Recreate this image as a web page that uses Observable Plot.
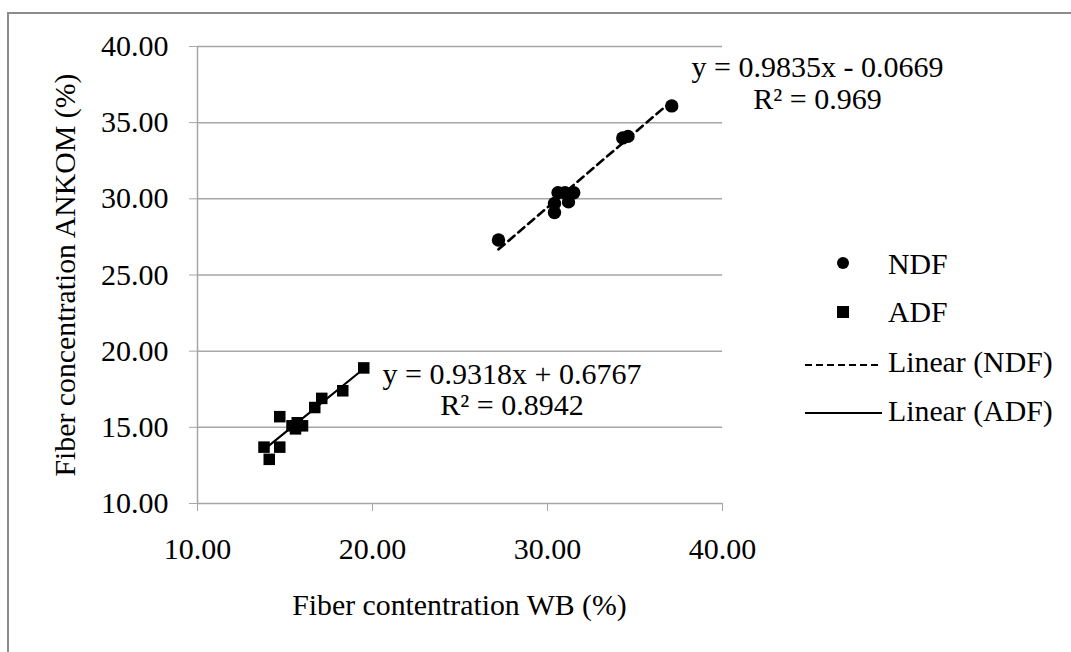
<!DOCTYPE html>
<html>
<head>
<meta charset="utf-8">
<script src="https://cdn.jsdelivr.net/npm/d3@7"></script>
<script src="https://cdn.jsdelivr.net/npm/@observablehq/plot@0.6"></script>
<style>
  html, body { margin: 0; padding: 0; background: #fff; overflow: hidden; }
  body { width: 1071px; height: 652px; position: relative; font-family: "Liberation Serif", "Times New Roman", serif; color: #000; }
  #frame { position: absolute; left: 7px; top: 12px; width: 1100px; height: 700px; border: 2px solid #8c8c8c; box-sizing: border-box; }
  #chart { position: absolute; left: 0; top: 0; }
  #chart svg text { font-family: "Liberation Serif", "Times New Roman", serif; }
  .lbl { position: absolute; white-space: nowrap; line-height: 1; font-size: 29.8px; }
  .leg { position: absolute; font-size: 29.8px; white-space: nowrap; line-height: 1; }
</style>
</head>
<body>
<div id="frame"></div>
<div id="chart"></div>
<div class="lbl" id="xlab" style="left:459.5px; top:605px; transform: translate(-50%,-50%);">Fiber contentration WB (%)</div>
<div class="lbl" id="ylab" style="left:65px; top:274.5px; transform: translate(-50%,-50%) rotate(-90deg);">Fiber concentration ANKOM (%)</div>
<div id="legend"></div>
<script>
// NDF series (WB %, ANKOM %)
const ndfX = [27.2, 30.4, 30.4, 30.6, 31.0, 31.5, 31.2, 34.3, 34.6, 37.1];
const ndfY = [27.3, 29.1, 29.7, 30.4, 30.4, 30.4, 29.8, 34.0, 34.1, 36.1];
// ADF series
const adfX = [13.8, 14.1, 14.7, 14.7, 15.4, 15.6, 15.7, 16.0, 16.7, 17.1, 18.3, 19.5];
const adfY = [13.7, 12.9, 13.7, 15.7, 15.1, 14.9, 15.3, 15.1, 16.3, 16.9, 17.4, 18.9];
// Trendline coefficients
const ndfSlope = 0.9835, ndfIntercept = -0.0669, ndfR2 = "0.969";
const adfSlope = 0.9318, adfIntercept = 0.6767, adfR2 = "0.8942";
const ndfEq = "y = 0.9835x - 0.0669";
const adfEq = "y = 0.9318x + 0.6767";
// Annotation anchor points (data units): centre x, y of equation line, y of R² line
const ndfEqPos = [45.43, 38.62, 36.5];
const adfEqPos = [27.97, 18.5, 16.45];
// Axis ticks
const xTicks = [10, 20, 30, 40];
const yTicks = [10, 15, 20, 25, 30, 35, 40];
const legendItems = ["NDF", "ADF", "Linear (NDF)", "Linear (ADF)"];

const ndf = ndfX.map((x, i) => ({x, y: ndfY[i]}));
const adf = adfX.map((x, i) => ({x, y: adfY[i]}));
const trend = (xs, m, b) => { const e = d3.extent(xs); return e.map(x => ({x, y: m * x + b})); };
const ndfLine = trend(ndfX, ndfSlope, ndfIntercept);
const adfLine = trend(adfX, adfSlope, adfIntercept);

const grey = "#a6a6a6";
const serif = "Liberation Serif, Times New Roman, serif";
const eqText = (s, x, y) => Plot.text([s], {x, y, text: d => d, textAnchor: "middle", fontSize: 30, fontFamily: serif, fill: "#000"});
const chart = Plot.plot({
  width: 1071, height: 652,
  marginLeft: 197, marginRight: 349, marginTop: 46, marginBottom: 149,
  style: "font-family: 'Liberation Serif', 'Times New Roman', serif; font-size: 30px; color: #000; background: transparent; overflow: visible;",
  x: {domain: [10, 40], label: null},
  y: {domain: [10, 40], label: null},
  marks: [
    Plot.ruleY(yTicks.filter(d => d > 10), {stroke: grey, strokeWidth: 1.5}),
    Plot.axisX({ticks: xTicks, tickFormat: d => d.toFixed(2), tickSize: 8, tickPadding: 26, stroke: grey, fill: "#000", fontSize: 30, fontFamily: serif, label: null}),
    Plot.axisY({ticks: yTicks, tickFormat: d => d.toFixed(2), tickSize: 8, tickPadding: 21, stroke: grey, fill: "#000", fontSize: 30, fontFamily: serif, label: null}),
    Plot.ruleX([10], {stroke: grey, strokeWidth: 1.5}),
    Plot.ruleY([10], {stroke: grey, strokeWidth: 1.5}),
    Plot.line(ndfLine, {x: "x", y: "y", stroke: "#000", strokeWidth: 2.6, strokeDasharray: "8,5"}),
    Plot.line(adfLine, {x: "x", y: "y", stroke: "#000", strokeWidth: 2.2}),
    Plot.dot(ndf, {x: "x", y: "y", r: 6.7, symbol: "circle", fill: "#000", stroke: null}),
    Plot.dot(adf, {x: "x", y: "y", r: 6.5, symbol: "square", fill: "#000", stroke: null}),
    eqText(ndfEq, ndfEqPos[0], ndfEqPos[1]),
    eqText("R² = " + ndfR2, ndfEqPos[0], ndfEqPos[2]),
    eqText(adfEq, adfEqPos[0], adfEqPos[1]),
    eqText("R² = " + adfR2, adfEqPos[0], adfEqPos[2])
  ]
});
document.getElementById("chart").append(chart);

// Legend
const lg = document.getElementById("legend");
const symbols = [
  '<svg width="90" height="24"><circle cx="38" cy="12" r="6" fill="#000"/></svg>',
  '<svg width="90" height="24"><rect x="32" y="6" width="12" height="12" fill="#000"/></svg>',
  '<svg width="90" height="24"><line x1="0" x2="77" y1="12" y2="12" stroke="#000" stroke-width="2" stroke-dasharray="7,4"/></svg>',
  '<svg width="90" height="24"><line x1="0" x2="77" y1="12" y2="12" stroke="#000" stroke-width="2"/></svg>'
];
const symY = [263, 312, 365, 413];
const textY = [264, 312, 362, 411];
legendItems.forEach((t, i) => {
  const s = document.createElement("div");
  s.style.cssText = `position:absolute; left:805px; top:${symY[i] - 12}px; line-height:0;`;
  s.innerHTML = symbols[i];
  lg.append(s);
  const d = document.createElement("div");
  d.className = "leg";
  d.style.cssText = `left:888px; top:${textY[i]}px; transform: translateY(-50%);`;
  d.textContent = t;
  lg.append(d);
});
</script>
</body>
</html>
